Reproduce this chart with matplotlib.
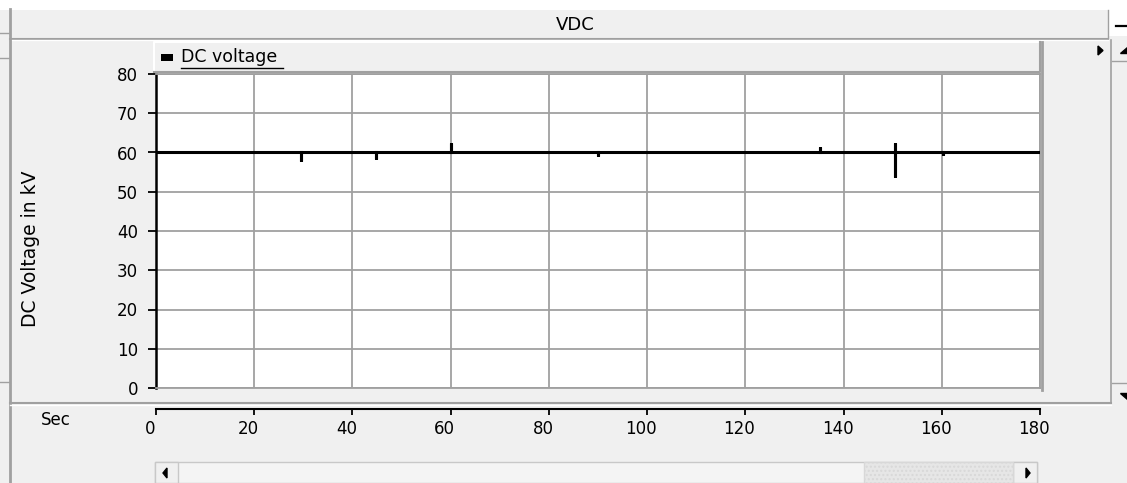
import matplotlib
matplotlib.use("Agg")
import matplotlib.pyplot as plt
import matplotlib.transforms as mtransforms
from matplotlib.patches import Rectangle, Polygon

plt.rcParams['font.family'] = ['DejaVu Sans']

# ---- data ----
time_s = [0, 29.6, 29.6, 29.6, 44.8, 44.8, 44.8, 60.1, 60.1, 60.1,
          90.0, 90.0, 90.0, 135.3, 135.3, 135.3, 150.4, 150.4, 150.4, 150.4,
          160.3, 160.3, 160.3, 180]
voltage_kv = [60, 60, 57.8, 60, 60, 58.3, 60, 60, 62.3, 60,
              60, 59.2, 60, 60, 61.4, 60, 60, 62.4, 53.8, 60,
              60, 59.3, 60, 60]
y_ticks = [0, 10, 20, 30, 40, 50, 60, 70, 80]
x_ticks = [0, 20, 40, 60, 80, 100, 120, 140, 160, 180]
title = "VDC"
series_name = "DC voltage"
y_label = "DC Voltage in kV"
x_label = "Sec"

W, H = 1127, 483
BG = '#f0f0f0'
GRID = '#a0a0a0'
DARK = '#a0a0a0'

fig = plt.figure(figsize=(W / 100, H / 100), dpi=100)
fig.patch.set_facecolor(BG)

def px_rect(x0, y0, x1, y1):
    return [x0 / W, 1 - y1 / H, (x1 - x0) / W, (y1 - y0) / H]

# ---- chrome overlay ----
ch = fig.add_axes([0, 0, 1, 1], zorder=-5)
ch.set_xlim(0, W)
ch.set_ylim(H, 0)
ch.axis('off')
ch.set_facecolor('none')

# white top band
ch.add_patch(Rectangle((0, 0), W, 9.5, color='white', lw=0))
ch.add_patch(Rectangle((1108, 0), W - 1108, 36, color='white', lw=0))
# title bar
ch.plot([10, 1108], [38.5, 38.5], color=DARK, lw=1.5)
ch.plot([10, 1108], [40, 40], color='white', lw=1)
ch.text(575, 25, title, ha='center', va='center', fontsize=13)
# left border
ch.plot([10, 10], [9, H], color=DARK, lw=2)
ch.plot([0, 9], [33, 33], color=DARK, lw=1)
ch.plot([0, 9], [58, 58], color=DARK, lw=1)
ch.plot([0, 9], [382, 382], color=DARK, lw=1)
# minimise button
ch.plot([1116, 1127], [26, 26], color='black', lw=1.6)
ch.plot([1108, 1108], [10, 38], color=DARK, lw=1)
# right scrollbar
ch.plot([1111, 1111], [40, 403], color=DARK, lw=1.2)
ch.plot([1112, 1127], [61, 61], color=DARK, lw=1)
ch.plot([1112, 1127], [383, 383], color=DARK, lw=1)
ch.add_patch(Polygon([[1120, 53], [1127, 53], [1127, 47]], closed=True, color='black'))
ch.add_patch(Polygon([[1120, 393], [1127, 393], [1127, 399]], closed=True, color='black'))
# small right-pointing triangle
ch.add_patch(Polygon([[1098, 46], [1098, 55], [1103, 50.5]], closed=True, color='black'))
# separator above time axis
ch.plot([10, 1111], [403, 403], color=DARK, lw=1.5)
ch.plot([10, 1111], [404.5, 404.5], color='white', lw=1)

# legend bar
ch.add_patch(Rectangle((154, 42), 886, 30, facecolor=BG, edgecolor='none'))
ch.plot([154, 154, 1040], [72, 42, 42], color='white', lw=1.5)
ch.plot([154, 1040, 1040], [72, 72, 42], color=DARK, lw=1.5)
ch.add_patch(Rectangle((161, 53.5), 12, 7, color='black', lw=0))
ch.text(181, 57.5, series_name, ha='left', va='center', fontsize=12.5)
ch.plot([181, 283], [68, 68], color='black', lw=1)
# plot right shadow
ch.plot([1041.5, 1041.5], [42, 390], color=DARK, lw=2)

# y label
ch.text(30.5, 249, y_label, rotation=90, ha='center', va='center', fontsize=13.5)
# x label
ch.text(56, 420, x_label, ha='center', va='center', fontsize=12)

# bottom horizontal scrollbar
ch.add_patch(Rectangle((155, 462), 882, 21, facecolor='#f4f4f4', edgecolor='#c8c8c8', lw=1))
ch.add_patch(Rectangle((155, 462), 23, 21, facecolor=BG, edgecolor='#c8c8c8', lw=1))
ch.add_patch(Rectangle((1013, 462), 24, 21, facecolor=BG, edgecolor='#c8c8c8', lw=1))
ch.add_patch(Rectangle((864, 462), 149, 21, facecolor='#e6e6e6', edgecolor='#d8d8d8', lw=1,
                       hatch='....'))
ch.add_patch(Polygon([[163, 473], [167, 468], [167, 478]], closed=True, color='black'))
ch.add_patch(Polygon([[1026, 468], [1026, 478], [1030, 473]], closed=True, color='black'))

# ---- main plot ----
ax = fig.add_axes(px_rect(156, 74, 1040, 388))
ax.set_facecolor('white')
ax.plot(time_s, voltage_kv, color='black', lw=2.2, solid_joinstyle='miter', zorder=3)
ax.set_xlim(0, 180)
ax.set_ylim(0, 80)
ax.set_xticks(x_ticks)
ax.set_yticks(y_ticks)
ax.grid(True, color=GRID, lw=1.3)
ax.tick_params(axis='x', bottom=False, labelbottom=False)
ax.tick_params(axis='y', direction='out', length=6, width=1.3, color='black',
               labelsize=12, pad=7)
for s in ['top', 'right', 'bottom']:
    ax.spines[s].set_color(GRID)
    ax.spines[s].set_linewidth(1.3)
ax.spines['left'].set_color('black')
ax.spines['left'].set_linewidth(1.8)

# ---- time axis ----
tx = fig.add_axes(px_rect(156, 407, 1040, 408.5))
tx.set_facecolor('none')
tx.set_xlim(0, 180)
tx.set_ylim(0, 1)
tx.set_yticks([])
tx.set_xticks(x_ticks)
for s in ['top', 'left', 'right']:
    tx.spines[s].set_visible(False)
tx.spines['bottom'].set_color('black')
tx.spines['bottom'].set_linewidth(1.5)
tx.tick_params(axis='x', direction='out', length=4, width=1.3, labelsize=12, pad=4)
offset = mtransforms.ScaledTranslation(-6 / 100, 0, fig.dpi_scale_trans)
for lab in tx.get_xticklabels():
    lab.set_transform(lab.get_transform() + offset)

fig.savefig('out.png', dpi=100, facecolor=fig.get_facecolor())
